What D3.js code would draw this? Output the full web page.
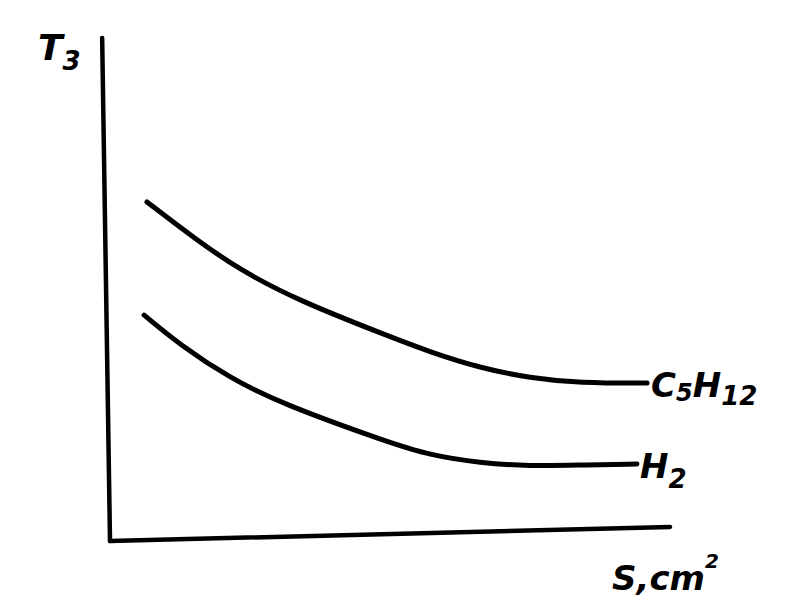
<!DOCTYPE html>
<html><head><meta charset="utf-8">
<script src="https://cdn.jsdelivr.net/npm/d3@7"></script>
<style>html,body{margin:0;padding:0;background:#fff;}</style>
</head><body><div id="chart"></div>
<script>
// Data (arbitrary units, sketch without ticks)
const sValues = [6.6, 15.5, 23.2, 33.4, 50.0, 57.1, 66.1, 75.0, 83.9, 95.9];
const c5h12 = [67.4, 59.8, 53.9, 47.9, 40.6, 37.6, 34.4, 32.4, 31.4, 31.4];
const sValuesH2 = [6.1, 12.5, 21.4, 30.4, 50.0, 57.1, 66.1, 75.0, 83.9, 94.1];
const h2 = [44.9, 39.0, 32.4, 27.4, 19.5, 17.1, 15.5, 14.9, 15.1, 15.3];
// hand-drawn axes (slightly slanted)
const yAxisPts = [[-1.4, 100], [0, 0]];
const xAxisPts = [[0, 0], [100, 2.8]];
const seriesNames = ["C5H12", "H2"];

const W = 804, H = 607;
const svg = d3.select("#chart").append("svg").attr("width", W).attr("height", H)
  .style("background", "#fff");

const x = d3.scaleLinear().domain([0, 100]).range([110, 670]);
const y = d3.scaleLinear().domain([0, 100]).range([541, 38]);

const line = d3.line().x(d => x(d[0])).y(d => y(d[1])).curve(d3.curveBasis);
const straight = d3.line().x(d => x(d[0])).y(d => y(d[1]));

svg.append("path").attr("d", straight(yAxisPts)).attr("fill", "none")
  .attr("stroke", "#000").attr("stroke-width", 4.5).attr("stroke-linecap", "round");
svg.append("path").attr("d", straight(xAxisPts)).attr("fill", "none")
  .attr("stroke", "#000").attr("stroke-width", 4.5).attr("stroke-linecap", "round");

const series = [
  sValues.map((s, i) => [s, c5h12[i]]),
  sValuesH2.map((s, i) => [s, h2[i]])
];
svg.selectAll("path.curve").data(series).enter().append("path")
  .attr("class", "curve")
  .attr("d", line).attr("fill", "none").attr("stroke", "#000")
  .attr("stroke-width", 5).attr("stroke-linecap", "round");

const font = "'DejaVu Sans', sans-serif";
function lab(px, py, parts, size) {
  const t = svg.append("text").attr("x", px).attr("y", py)
    .attr("font-family", font).attr("font-style", "italic").attr("font-weight", "bold")
    .attr("font-size", size).attr("fill", "#000");
  parts.forEach(p => {
    const ts = t.append("tspan").text(p.t);
    if (p.dy) ts.attr("dy", p.dy);
    if (p.s) ts.attr("font-size", p.s);
  });
  return t;
}
// C5H12 label at end of curve
const lastC = series[0][series[0].length - 1];
lab(x(lastC[0]) + 4, y(lastC[1]) + 14, [{t: "C"}, {t: "5", s: 24, dy: 4}, {t: "H", dy: -4}, {t: "12", s: 26, dy: 8}], 34);
const lastH = series[1][series[1].length - 1];
lab(x(lastH[0]) + 3, y(lastH[1]) + 14, [{t: "H"}, {t: "2", s: 26, dy: 10}], 34);
// axis labels
lab(38, 60, [{t: "T"}, {t: "3", s: 26, dy: 10}], 36);
lab(612, 590, [{t: "S,"}, {t: "cm"}, {t: "2", s: 20, dy: -22}], 34);
</script></body></html>
